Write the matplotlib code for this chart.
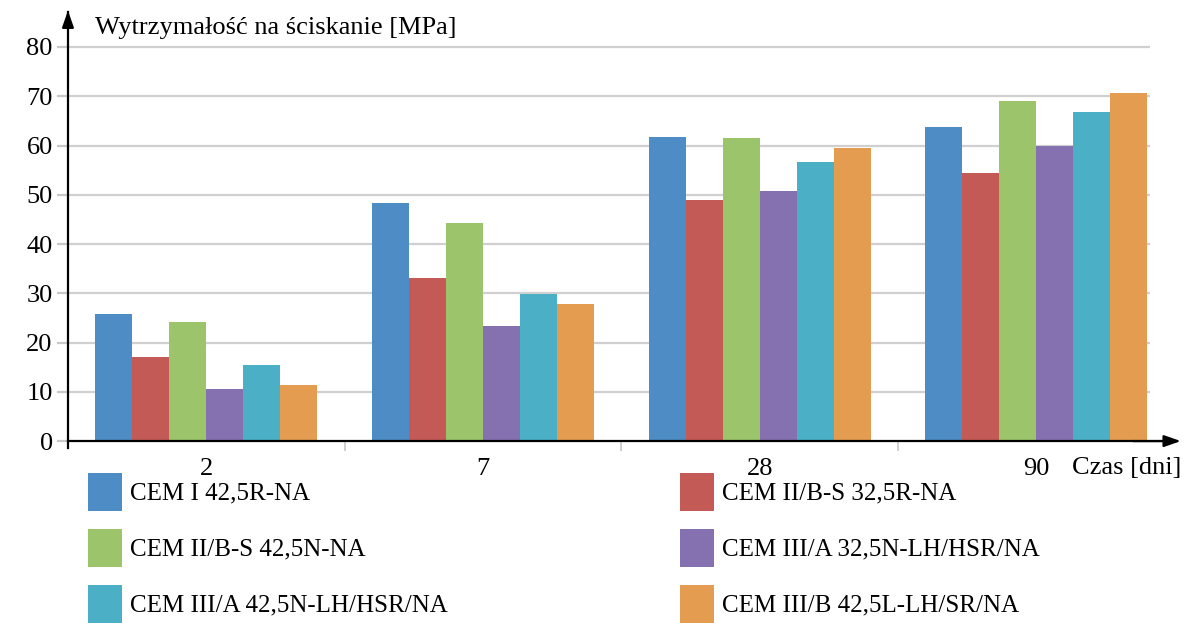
import numpy as np
import matplotlib.pyplot as plt
from matplotlib.patches import Patch

# compressive strength of cements after 2, 7, 28, 90 days
days = ["2", "7", "28", "90"]
cements = ["CEM I 42,5R-NA", "CEM II/B-S 32,5R-NA", "CEM II/B-S 42,5N-NA",
           "CEM III/A 32,5N-LH/HSR/NA", "CEM III/A 42,5N-LH/HSR/NA",
           "CEM III/B 42,5L-LH/SR/NA"]
cem1_425r = [25.7, 48.4, 61.7, 63.8]
cem2_325r = [17.1, 33.1, 49.0, 54.4]
cem2_425n = [24.1, 44.2, 61.6, 69.0]
cem3a_325n = [10.6, 23.4, 50.8, 59.9]
cem3a_425n = [15.5, 29.9, 56.6, 66.8]
cem3b_425l = [11.3, 27.9, 59.4, 70.7]
series = [cem1_425r, cem2_325r, cem2_425n, cem3a_325n, cem3a_425n, cem3b_425l]
colors = ["#4d8cc4", "#c45a56", "#9cc46a", "#8671b0", "#4bb0c6", "#e49c50"]

plt.rcParams['font.family'] = ['Liberation Serif', 'DejaVu Serif']

fig = plt.figure(figsize=(12.03, 6.23), dpi=100)
ax = fig.add_axes([0.0565, 0.292, 0.920, 0.692])

x = np.arange(len(days)) + 0.5
w = 0.1336
for i, (vals, c) in enumerate(zip(series, colors)):
    ax.bar(x + (i - 2.5) * w, vals, width=w, color=c, zorder=3)

ax.set_xlim(0, 4)
ax.set_ylim(0, 80 * 431 / 394)

# grid lines stop short of the arrow
ax.hlines(np.arange(10, 90, 10), 0, 3.91, color="#d0d0d0", lw=1.6, zorder=1)
ax.set_yticks(np.arange(0, 90, 10))
ax.tick_params(axis="y", length=8, color="#c8c8c8", width=1.6, labelsize=19, pad=3)
ax.set_xticks(x, days)
ax.tick_params(axis="x", length=0, labelsize=19, pad=12)
ax.set_xticks([1, 2, 3], minor=True)
ax.tick_params(axis="x", which="minor", length=7, color="#c8c8c8", width=1.2)

for s in ["top", "right"]:
    ax.spines[s].set_visible(False)
ax.spines["left"].set_linewidth(1.6)
ax.spines["bottom"].set_linewidth(1.6)
ax.spines["left"].set_bounds(-1.5, 87)
ax.spines["left"].set_zorder(5)
ax.spines["bottom"].set_zorder(5)

# axis arrows
ax.annotate("", xy=(0, 1.005), xytext=(0, 0.95), xycoords="axes fraction",
            arrowprops=dict(arrowstyle="-|>,head_width=0.35,head_length=1.0",
                            color="black", lw=1.6), annotation_clip=False)
ax.annotate("", xy=(1.008, 0), xytext=(0.96, 0), xycoords="axes fraction",
            arrowprops=dict(arrowstyle="-|>,head_width=0.35,head_length=1.0",
                            color="black", lw=1.6), annotation_clip=False)

fig.text(95 / 1203, 1 - 28 / 623, "Wytrzymałość na ściskanie [MPa]",
         fontsize=19, va="center", ha="left")
fig.text(1072 / 1203, 1 - 468 / 623, "Czas [dni]", fontsize=19,
         va="center", ha="left")

order = [0, 2, 4, 1, 3, 5]
handles = [Patch(facecolor=colors[i], edgecolor="none", label=cements[i]) for i in order]
fig.legend(handles=handles, ncol=2, loc="upper left",
           bbox_to_anchor=(88 / 1203, 1 - 473 / 623), frameon=False,
           fontsize=18, handlelength=1.36, handleheight=1.96,
           handletextpad=0.32, labelspacing=0.72, columnspacing=9.3,
           borderaxespad=0, borderpad=0)

fig.savefig("out.png", dpi=100)
